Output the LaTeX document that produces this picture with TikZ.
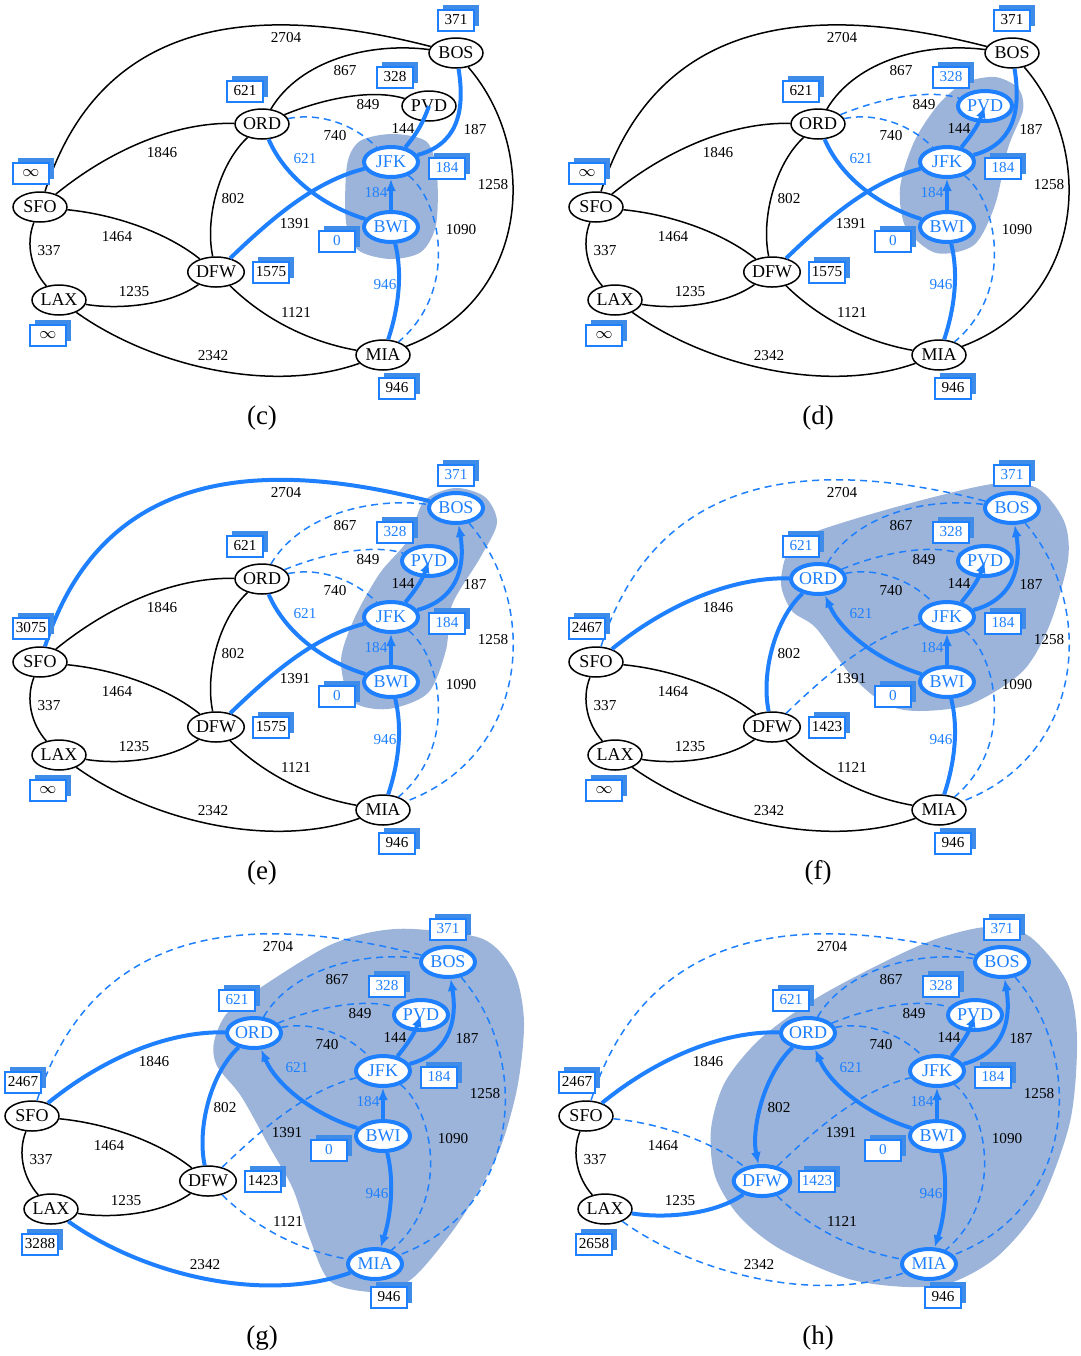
\documentclass[tikz,border=0pt]{standalone}
\usepackage{fontspec}
\setmainfont{Liberation Serif}
\usetikzlibrary{arrows.meta,shadows,shapes.geometric}

\definecolor{netblue}{RGB}{30,128,255}
\definecolor{cloudblue}{RGB}{156,180,218}
\definecolor{shadowblue}{RGB}{62,140,232}
\newcommand{\fin}[1]{\textcolor{netblue}{#1}}

% one state of the airport network; distance labels in the order
% BOS, PVD, ORD, JFK, SFO, BWI, DFW, LAX, MIA
\newcommand{\airnet}[9]{%
  \node[city, bos] (BOS) at (456,53) {BOS};
  \node[city, pvd] (PVD) at (429,106) {PVD};
  \node[city, ord] (ORD) at (262,124) {ORD};
  \node[city, jfk] (JFK) at (391,162) {JFK};
  \node[city, sfo] (SFO) at (40,207) {SFO};
  \node[city, bwi] (BWI) at (391,227) {BWI};
  \node[city, dfw] (DFW) at (216,272) {DFW};
  \node[city, lax] (LAX) at (59,300) {LAX};
  \node[city, mia] (MIA) at (383,355) {MIA};

  \draw[route, sfo bos] (SFO) .. controls (100,20) and (250,0) .. (BOS);
  \draw[route, ord bos] (ORD) .. controls (300,60) and (370,42) .. (BOS);
  \draw[route, ord pvd] (ORD) .. controls (320,100) and (370,88) .. (PVD);
  \draw[route, ord jfk] (ORD) .. controls (320,112) and (355,125) .. (JFK);
  \draw[route, sfo ord] (SFO) .. controls (110,150) and (175,122) .. (ORD);
  \draw[route, ord dfw] (ORD) .. controls (218,165) and (205,220) .. (DFW);
  \draw[route, bwi ord] (BWI) .. controls (320,205) and (284,175) .. (ORD);
  \draw[route, jfk pvd] (JFK) to[bend right=10] (PVD);
  \draw[route, jfk bos] (JFK) .. controls (455,145) and (466,115) .. (BOS);
  \draw[route, bos mia] (BOS) .. controls (540,150) and (530,300) .. (MIA);
  \draw[route, bwi jfk] (BWI) -- (JFK);
  \draw[route, dfw jfk] (DFW) .. controls (280,210) and (320,180) .. (JFK);
  \draw[route, jfk mia] (JFK) .. controls (440,200) and (460,290) .. (MIA);
  \draw[route, bwi mia] (BWI) .. controls (403,275) and (398,310) .. (MIA);
  \draw[route, sfo dfw] (SFO) .. controls (120,215) and (170,235) .. (DFW);
  \draw[route, sfo lax] (SFO) .. controls (25,245) and (32,270) .. (LAX);
  \draw[route, lax dfw] (LAX) .. controls (120,310) and (170,305) .. (DFW);
  \draw[route, lax mia] (LAX) .. controls (150,365) and (270,395) .. (MIA);
  \draw[route, dfw mia] (DFW) .. controls (265,320) and (310,342) .. (MIA);

  \node[wt] (w2704) at (286,38) {2704};
  \node[wt] (w867) at (345,71) {867};
  \node[wt] (w849) at (368,105) {849};
  \node[wt] (w740) at (335,136) {740};
  \node[wt] (w1846) at (162,153) {1846};
  \node[wt] (w802) at (233,199) {802};
  \node[bluewt] (w621) at (305,159) {621};
  \node[wt] (w144) at (403,128) {144};
  \node[wt] (w187) at (475,130) {187};
  \node[wt] (w1258) at (493,185) {1258};
  \node[bluewt] (w184) at (376,193) {184};
  \node[wt] (w1391) at (295,224) {1391};
  \node[wt] (w1090) at (461,230) {1090};
  \node[bluewt] (w946) at (385,285) {946};
  \node[wt] (w1464) at (117,237) {1464};
  \node[wt] (w337) at (49,251) {337};
  \node[wt] (w1235) at (134,292) {1235};
  \node[wt] (w1121) at (296,312) {1121};
  \node[wt] (w2342) at (213,356) {2342};

  \node[dist] (dBOS) at (456,20) {#1};
  \node[dist] (dPVD) at (395,77) {#2};
  \node[dist] (dORD) at (245,91) {#3};
  \node[dist] (dJFK) at (447,168) {#4};
  \node[dist] (dSFO) at (31,173) {#5};
  \node[dist] (dBWI) at (337,241) {#6};
  \node[dist] (dDFW) at (271,272) {#7};
  \node[dist] (dLAX) at (48,335) {#8};
  \node[dist] (dMIA) at (397,388) {#9};
}

\begin{document}
\begin{tikzpicture}[x=0.5pt, y=-0.5pt,
  city/.style={draw, ellipse, line width=0.75pt, fill=white, minimum width=27pt, minimum height=15pt, inner sep=0pt, font=\fontsize{9}{10}\selectfont},
  done/.style={draw=netblue, line width=2pt, text=netblue},
  route/.style={line width=0.75pt},
  tent/.style={draw=netblue, line width=2pt},
  tree/.style={tent, -{Latex[length=6pt, width=5pt]}},
  seen/.style={draw=netblue, line width=0.75pt, dash pattern=on 3.5pt off 2.5pt},
  wt/.style={inner sep=0pt, font=\fontsize{7.6}{8}\selectfont},
  bluewt/.style={wt, text=netblue},
  dist/.style={draw=netblue, line width=1pt, fill=white, minimum width=18pt, minimum height=10.5pt, inner sep=1.5pt, font=\fontsize{7.6}{8}\selectfont, drop shadow={shadow xshift=2.5pt, shadow yshift=2.5pt, fill=shadowblue, opacity=1}},
  cloud/.style={fill=cloudblue},
  tag/.style={font=\fontsize{13.5}{15}\selectfont},
  bos/.style={}, pvd/.style={}, ord/.style={}, jfk/.style={}, sfo/.style={},
  bwi/.style={}, dfw/.style={}, lax/.style={}, mia/.style={},
  sfo bos/.style={}, ord bos/.style={}, ord pvd/.style={}, ord jfk/.style={},
  sfo ord/.style={}, ord dfw/.style={}, bwi ord/.style={}, jfk pvd/.style={},
  jfk bos/.style={}, bos mia/.style={}, bwi jfk/.style={}, dfw jfk/.style={},
  jfk mia/.style={}, bwi mia/.style={}, sfo dfw/.style={}, sfo lax/.style={},
  lax dfw/.style={}, lax mia/.style={}, dfw mia/.style={}
]
\useasboundingbox (0,0) rectangle (1081,1356);

% (c)
\begin{scope}[name prefix=c-,
  jfk/.style=done, bwi/.style=done,
  bwi jfk/.style=tree,
  bwi ord/.style=tent, bwi mia/.style=tent, dfw jfk/.style=tent, jfk pvd/.style=tent, jfk bos/.style=tent,
  ord jfk/.style=seen, jfk mia/.style=seen]
\fill[cloud] plot[smooth cycle] coordinates {(347,165) (360,141) (393,134) (427,142) (437,175) (436,225) (421,252) (390,259) (358,250) (346,222)};
\airnet{371}{328}{621}{\fin{184}}{$\infty$}{\fin{0}}{1575}{$\infty$}{946}
\end{scope}

% (d)
\begin{scope}[shift={(556,0)}, name prefix=d-,
  pvd/.style=done, jfk/.style=done, bwi/.style=done,
  bwi jfk/.style=tree, jfk pvd/.style=tree,
  bwi ord/.style=tent, bwi mia/.style=tent, dfw jfk/.style=tent, jfk bos/.style=tent,
  ord pvd/.style=seen, ord jfk/.style=seen, jfk mia/.style=seen]
\fill[cloud] plot[smooth cycle] coordinates {(408,83) (439,77) (462,88) (467,110) (452,148) (439,205) (418,245) (380,253) (350,228) (344,188) (358,142) (382,105)};
\airnet{371}{\fin{328}}{621}{\fin{184}}{$\infty$}{\fin{0}}{1575}{$\infty$}{946}
\end{scope}

% (e)
\begin{scope}[shift={(0,455)}, name prefix=e-,
  bos/.style=done, pvd/.style=done, jfk/.style=done, bwi/.style=done,
  bwi jfk/.style=tree, jfk pvd/.style=tree, jfk bos/.style=tree,
  sfo bos/.style=tent, bwi ord/.style=tent, bwi mia/.style=tent, dfw jfk/.style=tent,
  ord bos/.style=seen, ord pvd/.style=seen, ord jfk/.style=seen, jfk mia/.style=seen, bos mia/.style=seen]
\fill[cloud] plot[smooth cycle] coordinates {(424,46) (455,33) (485,42) (497,68) (480,103) (452,150) (446,195) (428,238) (388,254) (352,246) (341,205) (355,162) (380,118) (408,85)};
\airnet{\fin{371}}{\fin{328}}{621}{\fin{184}}{3075}{\fin{0}}{1575}{$\infty$}{946}
\end{scope}

% (f)
\begin{scope}[shift={(556,455)}, name prefix=f-,
  ord/.style=done, bos/.style=done, pvd/.style=done, jfk/.style=done, bwi/.style=done,
  bwi jfk/.style=tree, jfk pvd/.style=tree, jfk bos/.style=tree, bwi ord/.style=tree,
  sfo ord/.style=tent, ord dfw/.style=tent, bwi mia/.style=tent,
  sfo bos/.style=seen, ord bos/.style=seen, ord pvd/.style=seen, ord jfk/.style=seen,
  dfw jfk/.style=seen, jfk mia/.style=seen, bos mia/.style=seen]
\fill[cloud] plot[smooth cycle] coordinates {(253,79) (340,52) (436,29) (481,33) (508,66) (512,105) (494,169) (467,216) (415,249) (363,256) (329,249) (294,219) (260,173) (236,156) (225,129) (232,96)};
\airnet{\fin{371}}{\fin{328}}{\fin{621}}{\fin{184}}{2467}{\fin{0}}{1423}{$\infty$}{946}
\end{scope}

% (g)
\begin{scope}[shift={(-8,909)}, name prefix=g-,
  ord/.style=done, bos/.style=done, pvd/.style=done, jfk/.style=done, bwi/.style=done, mia/.style=done,
  bwi jfk/.style=tree, jfk pvd/.style=tree, jfk bos/.style=tree, bwi ord/.style=tree, bwi mia/.style=tree,
  sfo ord/.style=tent, ord dfw/.style=tent, lax mia/.style=tent,
  sfo bos/.style=seen, ord bos/.style=seen, ord pvd/.style=seen, ord jfk/.style=seen,
  dfw jfk/.style=seen, jfk mia/.style=seen, bos mia/.style=seen, dfw mia/.style=seen]
\fill[cloud] plot[smooth cycle] coordinates {(380,23) (422,20) (491,30) (522,63) (532,113) (525,180) (505,247) (467,313) (422,368) (387,383) (339,373) (318,330) (301,280) (277,237) (249,187) (225,157) (222,133) (236,103) (277,73) (336,37)};
\airnet{\fin{371}}{\fin{328}}{\fin{621}}{\fin{184}}{2467}{\fin{0}}{1423}{3288}{946}
\end{scope}

% (h)
\begin{scope}[shift={(546,909)}, name prefix=h-,
  ord/.style=done, bos/.style=done, pvd/.style=done, jfk/.style=done, bwi/.style=done, mia/.style=done, dfw/.style=done,
  bwi jfk/.style=tree, jfk pvd/.style=tree, jfk bos/.style=tree, bwi ord/.style=tree, bwi mia/.style=tree, ord dfw/.style=tree,
  sfo ord/.style=tent, lax dfw/.style=tent,
  sfo bos/.style=seen, ord bos/.style=seen, ord pvd/.style=seen, ord jfk/.style=seen, dfw jfk/.style=seen,
  jfk mia/.style=seen, bos mia/.style=seen, dfw mia/.style=seen, sfo dfw/.style=seen, lax mia/.style=seen]
\fill[cloud] plot[smooth cycle] coordinates {(390,30) (441,18) (483,27) (521,73) (531,130) (524,213) (493,297) (452,347) (407,373) (362,378) (303,370) (234,340) (193,307) (169,267) (165,220) (179,173) (214,130) (269,90) (338,53)};
\airnet{\fin{371}}{\fin{328}}{\fin{621}}{\fin{184}}{2467}{\fin{0}}{\fin{1423}}{2658}{946}
\end{scope}

\node[tag] (lc) at (262,418) {(c)};
\node[tag] (ld) at (818,418) {(d)};
\node[tag] (le) at (262,873) {(e)};
\node[tag] (lf) at (818,873) {(f)};
\node[tag] (lg) at (262,1338) {(g)};
\node[tag] (lh) at (818,1338) {(h)};
\end{tikzpicture}
\end{document}
